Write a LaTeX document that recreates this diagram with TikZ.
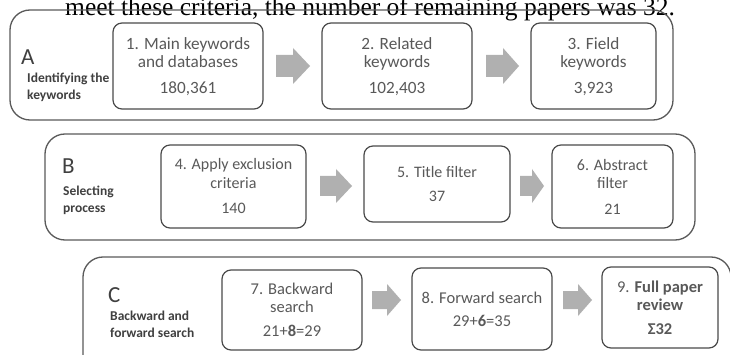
\documentclass[tikz,border=0pt]{standalone}
\usepackage{fontspec}
\setmainfont{Carlito}
\newfontfamily\serifA{Liberation Serif}
\definecolor{boxline}{HTML}{4A4A4A}
\definecolor{contline}{HTML}{5A5A5A}
\definecolor{boxtext}{HTML}{595959}
\definecolor{lbltext}{HTML}{404040}
\definecolor{arrowfill}{HTML}{B0B0B0}
\tikzset{
  container/.style={draw=contline, line width=1.3pt, rounded corners=20pt},
  stepbox/.style={draw=boxline, line width=1.2pt, rounded corners=9pt, text=boxtext,
    align=center, inner sep=0pt},
  rowa/.style={font=\fontsize{17.2}{18.5}\selectfont},
  rowb/.style={font=\fontsize{16}{18.5}\selectfont},
  rowc/.style={font=\fontsize{16.5}{18}\selectfont},
  bigletter/.style={anchor=west, text=lbltext, inner sep=0pt, font=\fontsize{23}{24}\selectfont},
  sublabel/.style={anchor=north west, text=lbltext, inner sep=0pt, align=left,
    font=\fontsize{13.5}{16.5}\selectfont\bfseries},
  blockarrow/.style={fill=arrowfill, draw=none},
}
\begin{document}
\begin{tikzpicture}[x=1pt,y=-1pt]
\useasboundingbox (0,0) rectangle (730,355);
\clip (0,0) rectangle (730,355);
\fill[white] (0,0) rectangle (730,355);
% cut-off line of running text
\node[anchor=base west, inner sep=0pt, font=\serifA\fontsize{25.5}{26}\selectfont] (toptext) at (65,15.5) {meet these criteria, the number of remaining papers was 32.};
% containers
\draw[container] (10,10) rectangle (673,120);
\draw[container] (45,134) rectangle (695,240);
\draw[container] (83,257) rectangle (731,380);
% labels
\node[bigletter] (la) at (21,57) {A};
\node[sublabel] (lat) at (27,73) {Identifying the\\keywords};
\node[bigletter] (lb) at (62,166) {B};
\node[sublabel] (lbt) at (63,186) {Selecting\\process};
\node[bigletter] (lc) at (108,295) {C};
\node[sublabel] (lct) at (110,311) {Backward and\\forward search};
% boxes
\draw[stepbox] (113,23) rectangle (263,109);
\node[stepbox, rowa, draw=none] (b1) at (188,66.5) {1. Main keywords\\and databases\\[7.5pt]180,361};
\draw[stepbox] (322,23) rectangle (472,109);
\node[stepbox, rowa, draw=none] (b2) at (397,66.5) {2. Related\\keywords\\[7.5pt]102,403};
\draw[stepbox] (531,23) rectangle (656,109);
\node[stepbox, rowa, draw=none] (b3) at (593.5,66.5) {3. Field\\keywords\\[7.5pt]3,923};
\draw[stepbox] (161,145) rectangle (306,228);
\node[stepbox, rowb, draw=none] (b4) at (233.5,186.5) {4. Apply exclusion\\criteria\\[7pt]140};
\draw[stepbox] (364,146) rectangle (510,222);
\node[stepbox, rowb, draw=none] (b5) at (437,184) {5. Title filter\\[5pt]37};
\draw[stepbox] (552,145) rectangle (673,228);
\node[stepbox, rowb, draw=none] (b6) at (612.5,186.5) {6. Abstract\\filter\\[7pt]21};
\draw[stepbox] (222,270) rectangle (362,350);
\node[stepbox, rowc, draw=none] (b7) at (292,310) {7. Backward\\search\\[6pt]21+\textbf{8}=29};
\draw[stepbox] (412,268) rectangle (552,350);
\node[stepbox, rowc, draw=none] (b8) at (482,309) {8. Forward search\\[5pt]29+\textbf{6}=35};
\draw[stepbox] (602,267) rectangle (718,348);
\node[stepbox, rowc, draw=none] (b9) at (660,307.5) {9. \textbf{Full paper}\\\textbf{review}\\[6pt]\textbf{Σ32}};
% block arrows
\fill[blockarrow] (276,55) -- (293,55) -- (293,48) -- (310,66) -- (293,84) -- (293,77) -- (276,77) -- cycle;
\fill[blockarrow] (486,55) -- (503,55) -- (503,48) -- (519,66) -- (503,84) -- (503,77) -- (486,77) -- cycle;
\fill[blockarrow] (320,176) -- (336,176) -- (336,169) -- (352,186) -- (336,203) -- (336,196) -- (320,196) -- cycle;
\fill[blockarrow] (520,176) -- (532,176) -- (532,169) -- (544,186) -- (532,203) -- (532,196) -- (520,196) -- cycle;
\fill[blockarrow] (372,291) -- (387,291) -- (387,284) -- (401,300) -- (387,316) -- (387,309) -- (372,309) -- cycle;
\fill[blockarrow] (563,291) -- (578,291) -- (578,284) -- (592,300) -- (578,316) -- (578,309) -- (563,309) -- cycle;
\end{tikzpicture}
\end{document}
